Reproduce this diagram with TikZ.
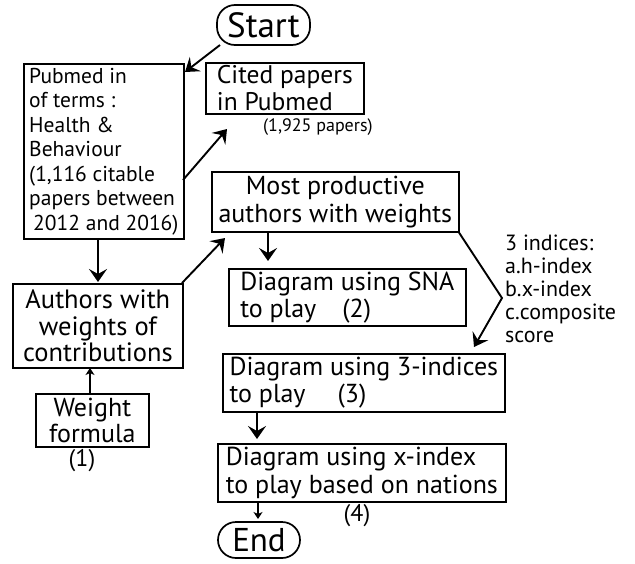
\documentclass[tikz,border=0pt]{standalone}
\usepackage{fontspec}
\setmainfont{PT Sans}
\usetikzlibrary{arrows.meta}
\tikzset{
  box/.style={draw, line width=1.7pt, anchor=north west, inner sep=0pt, font=\fontsize{26}{27.5}\selectfont},
  pill/.style={draw, line width=1.7pt, rounded corners=18pt, inner sep=0pt},
  arr/.style={line width=1.9pt, -{Stealth[length=13pt,width=18pt,inset=5pt]}},
  sarr/.style={line width=1.5pt, -{Stealth[length=7pt,width=9pt,inset=2pt]}},
  lbl/.style={inner sep=0pt, font=\fontsize{24}{26}\selectfont}
}
\begin{document}
\begin{tikzpicture}[x=1pt,y=-1pt]
\useasboundingbox (0,0) rectangle (635,563);
\fill[white] (0,0) rectangle (635,563);

% terminals
\node[pill, minimum width=93pt, minimum height=40pt, font=\fontsize{35}{35}\selectfont] (start) at (263.5,25) {Start};
\node[pill, minimum width=82pt, minimum height=36pt, font=\fontsize{33}{33}\selectfont] (end) at (259,540) {End};

% boxes
\node[box, minimum width=160pt, minimum height=175pt, align=left, font=\fontsize{21.5}{24.5}\selectfont] (pubmed) at (23,63)
  {Pubmed in\\of terms :\\Health \&\\Behaviour\\(1,116 citable\\papers between\\\hspace*{4pt}2012 and 2016)};
\node[box, minimum width=158pt, minimum height=51pt, align=left, font=\fontsize{25.5}{27}\selectfont] (cited) at (205,62)
  {Cited papers\\in Pubmed};
\node[box, minimum width=247pt, minimum height=60pt, align=center, font=\fontsize{26}{28}\selectfont] (most) at (211,171)
  {Most productive\\authors with weights};
\node[box, minimum width=170pt, minimum height=84pt, align=center, font=\fontsize{26.5}{26.5}\selectfont] (authors) at (12,283)
  {Authors with\\weights of\\contributions};
\node[box, minimum width=113pt, minimum height=53pt, align=center, font=\fontsize{26}{26}\selectfont] (weight) at (35,393)
  {Weight\\formula};
\node[box, minimum width=237pt, minimum height=57pt, align=left] (sna) at (228,268)
  {Diagram using SNA\\to play\hspace{26pt}(2)};
\node[box, minimum width=282pt, minimum height=58pt, align=left] (three) at (222,353)
  {Diagram using 3-indices\\to play\hspace{32pt}(3)};
\node[box, minimum width=288pt, minimum height=58pt, align=left] (xidx) at (217,443)
  {Diagram using x-index\\to play based on nations};

% labels
\node[lbl, anchor=west, font=\fontsize{18}{20}\selectfont] (papers) at (263,127) {(1,925 papers)};
\node[lbl] (one) at (82,461) {(1)};
\node[lbl] (four) at (357,516) {(4)};
\node[lbl, anchor=north west, align=left, font=\fontsize{22}{23}\selectfont] (indices) at (505,235)
  {3 indices:\\a.h-index\\b.x-index\\c.composite\\score};

% connector coordinates
\coordinate (s1) at (220,45);
\coordinate (t1) at (185,72);
\coordinate (s2) at (183,180);
\coordinate (t2) at (227,129);
\coordinate (s3) at (98,238);
\coordinate (t3) at (98,282);
\coordinate (s4) at (182,283);
\coordinate (t4) at (225,238);
\coordinate (s5) at (268,231);
\coordinate (t5) at (268,261);
\coordinate (s6) at (458,231);
\coordinate (b6) at (502,298);
\coordinate (t6) at (474,347);
\coordinate (s7) at (90,393);
\coordinate (t7) at (90,368);
\coordinate (s8) at (257,411);
\coordinate (t8) at (257,439);
\coordinate (s9) at (258,501);
\coordinate (t9) at (258,519);

\draw[arr] (s1) -- (t1);
\draw[arr] (s2) -- (t2);
\draw[arr] (s3) -- (t3);
\draw[arr] (s4) -- (t4);
\draw[arr] (s5) -- (t5);
\draw[arr] (s6) -- (b6) -- (t6);
\draw[sarr] (s7) -- (t7);
\draw[arr] (s8) -- (t8);
\draw[sarr] (s9) -- (t9);
\end{tikzpicture}
\end{document}
